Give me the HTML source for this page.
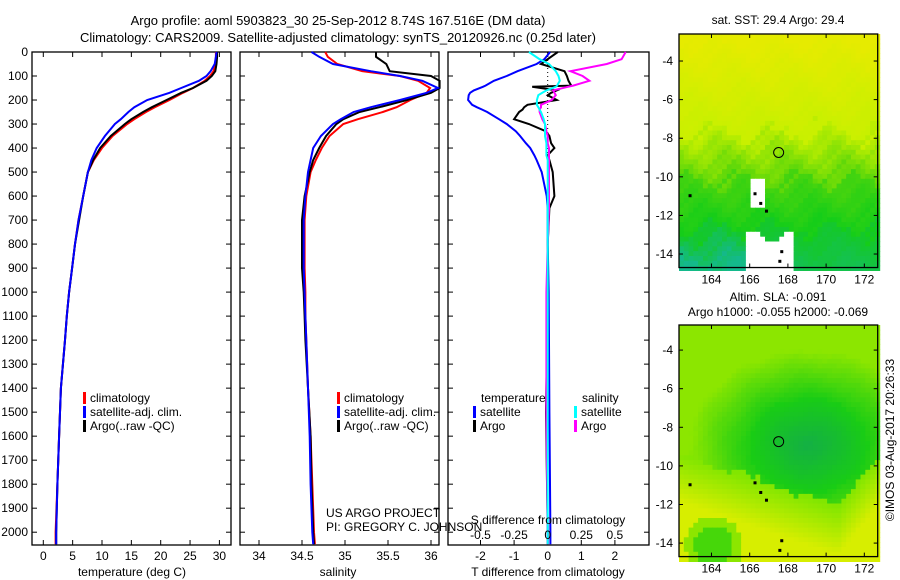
<!DOCTYPE html>
<html><head><meta charset="utf-8">
<style>
body{margin:0;background:#fff;}
svg{display:block;font-family:"Liberation Sans",sans-serif;}
text{font-size:12px;fill:#000;}
</style></head>
<body>
<svg id="c" width="900" height="580" viewBox="0 0 900 580">
<text x="338" y="25" text-anchor="middle" style="font-size:13px">Argo profile: aoml 5903823_30 25-Sep-2012 8.74S 167.516E (DM data)</text>
<text x="338" y="42" text-anchor="middle" style="font-size:13px">Climatology: CARS2009. Satellite-adjusted climatology: synTS_20120926.nc (0.25d later)</text>
<g id="g"></g>
</svg>
<script>
// ---- data ----
const depths = [0,20,50,80,100,120,150,170,200,230,250,280,300,350,400,450,500,600,700,800,900,1000,1100,1200,1400,1600,1800,2000,2050];
const tempArgo = [29.6,29.6,29.5,29.3,28.7,27.8,25.5,23.5,21.0,18.5,17.0,15.0,13.9,11.5,9.7,8.5,7.6,6.8,6.1,5.4,4.9,4.4,4.0,3.7,3.0,2.7,2.4,2.2,2.2];
const tempClim = [29.4,29.4,29.3,29.0,28.4,27.5,25.5,23.8,21.5,19.0,17.5,15.5,14.3,11.8,10.0,8.6,7.6,6.8,6.0,5.4,4.9,4.4,4.0,3.7,3.0,2.7,2.4,2.1,2.1];
const tempSat = [29.5,29.4,29.2,28.5,27.8,26.5,23.5,21.5,17.7,15.5,14.5,13.2,12.2,10.5,9.1,8.2,7.6,6.8,6.0,5.4,4.9,4.4,4.0,3.7,3.0,2.7,2.4,2.2,2.2];
const salArgo = [35.36,35.36,35.48,35.52,36.0,36.1,36.1,36.0,35.72,35.4,35.17,34.98,34.9,34.78,34.7,34.63,34.59,34.53,34.5,34.5,34.5,34.52,34.53,34.54,34.57,34.6,34.61,34.63,34.64];
const salClim = [34.77,34.8,34.91,35.2,35.64,35.85,35.99,35.95,35.76,35.6,35.44,35.15,34.98,34.82,34.73,34.66,34.6,34.55,34.53,34.53,34.53,34.54,34.54,34.55,34.57,34.6,34.62,34.64,34.65];
const salSat = [34.61,34.7,34.86,35.3,35.64,35.9,36.08,35.95,35.64,35.3,35.1,34.95,34.86,34.72,34.63,34.6,34.57,34.54,34.52,34.52,34.52,34.53,34.54,34.55,34.57,34.59,34.6,34.62,34.63];
const dDepths = [0,30,50,80,100,120,140,145,160,170,180,200,220,230,240,250,280,300,330,350,380,400,430,450,500,600,650,800,1000,1500,2000,2050];
const dTSat = [0.07,-0.1,-0.33,-0.9,-1.22,-1.6,-1.85,-1.93,-2.2,-2.31,-2.35,-2.37,-2.25,-2.11,-1.95,-1.8,-1.45,-1.22,-0.95,-0.82,-0.65,-0.52,-0.4,-0.33,-0.18,-0.03,0.0,0.0,0.03,0.05,0.08,0.08];
const dTArgo = [0.3,0.0,-0.2,0.5,0.57,0.62,0.7,-0.46,0.27,0.1,0.0,0.27,-0.6,-0.7,-0.75,-0.85,-1.0,-0.56,-0.06,0.05,0.1,0.2,0.0,0.05,0.15,0.2,0.05,0.0,0.0,-0.05,0.0,0.0];
const dSSat = [-0.14,-0.06,0.01,0.06,0.08,0.09,0.07,0.06,-0.01,-0.04,-0.07,-0.08,-0.08,-0.07,-0.06,-0.05,-0.03,-0.02,-0.02,-0.02,-0.01,-0.01,-0.01,0.0,0.0,0.0,0.0,0.0,0.0,0.0,0.0,0.0];
const dSArgo = [0.58,0.55,0.44,0.17,0.26,0.31,0.19,0.15,0.04,0.05,0.06,0.03,-0.05,-0.05,-0.06,-0.06,-0.04,-0.02,-0.01,0.0,0.0,0.01,0.01,0.01,0.01,0.01,0.01,0.0,-0.01,-0.01,0.0,0.0];
const depthTicks = [0,100,200,300,400,500,600,700,800,900,1000,1100,1200,1300,1400,1500,1600,1700,1800,1900,2000];
const tempTicks = [0,5,10,15,20,25,30];
const salTicks = [34,34.5,35,35.5,36];
const dTTicks = [-2,-1,0,1,2];
const dSTicks = [-0.5,-0.25,0,0.25,0.5];
const lonTicks = [164,166,168,170,172];
const latTicks = [-4,-6,-8,-10,-12,-14];

// ---- scales ----
const NS='http://www.w3.org/2000/svg';
const G=document.getElementById('g');
const yD=d=>52+d*0.2401;
const xT=t=>43.3+t*5.87;
const xS=s=>259+(s-34)*86;
const xDT=t=>547.7+t*33.6;
const xDS=s=>547.7+s*134.4;
function el(tag,attrs,parent){const e=document.createElementNS(NS,tag);for(const k in attrs)e.setAttribute(k,attrs[k]);(parent||G).appendChild(e);return e;}
function txt(x,y,s,anchor,parent,size){const t=el('text',{x:x,y:y,'text-anchor':anchor||'start'},parent);if(size)t.style.fontSize=size+'px';t.textContent=s;return t;}

function panel(name,x0,x1){
  const g=el('g',{});
  
  
  const r=el('rect',{x:x0,y:52,width:x1-x0,height:493,fill:'none',stroke:'#000','stroke-width':1.3},g);
  
  
  depthTicks.forEach(d=>{el('line',{x1:x0,x2:x0+5,y1:yD(d),y2:yD(d),stroke:'#000'},g);el('line',{x1:x1,x2:x1-5,y1:yD(d),y2:yD(d),stroke:'#000'},g);});
  return g;
}
function line(g,xs,ys,fx,color,name,w){
  const p=el('polyline',{points:xs.map((v,i)=>fx(v).toFixed(1)+','+yD(ys[i]).toFixed(1)).join(' '),fill:'none',stroke:color,'stroke-width':w||2},g);
  
  
}
function xTicks(g,ticks,fx,labelY,fmt){
  ticks.forEach(t=>{const x=fx(t);el('line',{x1:x,x2:x,y1:52,y2:57,stroke:'#000'},g);el('line',{x1:x,x2:x,y1:545,y2:540,stroke:'#000'},g);
    const l=txt(x,labelY,fmt?fmt(t):String(t),'middle',g);
    
    });
}
function legendEntry(g,x,y,color,label){
  el('rect',{x:x,y:y-10,width:3,height:12,fill:color},g);
  const t=txt(x+7,y,label,'start',g);
  
  
}

// Panel 1 temperature
const p1=panel('temperature-panel',32,231);
depthTicks.forEach(d=>{const t=txt(28,yD(d)+4,String(d),'end',p1);
  
  });
xTicks(p1,tempTicks,xT,560);
line(p1,tempClim,depths,xT,'#f00','temp-climatology-line');
line(p1,tempArgo,depths,xT,'#000','temp-argo-line');
line(p1,tempSat,depths,xT,'#00f','temp-satellite-line');
legendEntry(p1,83,402,'#f00','climatology');
legendEntry(p1,83,416,'#00f','satellite-adj. clim.');
legendEntry(p1,83,430,'#000','Argo(..raw -QC)');
const xt1=txt(132,576,'temperature (deg C)','middle',p1);



// Panel 2 salinity
const p2=panel('salinity-panel',240,439);
xTicks(p2,salTicks,xS,560);
line(p2,salClim,depths,xS,'#f00','sal-climatology-line');
line(p2,salArgo,depths,xS,'#000','sal-argo-line');
line(p2,salSat,depths,xS,'#00f','sal-satellite-line');
legendEntry(p2,337,402,'#f00','climatology');
legendEntry(p2,337,416,'#00f','satellite-adj. clim.');
legendEntry(p2,337,430,'#000','Argo(..raw -QC)');
const xt2=txt(338,576,'salinity','middle',p2);


const us=txt(326,517,'US ARGO PROJECT','start',p2);


const pi=txt(326,531,'PI: GREGORY C. JOHNSON','start',p2);



// Panel 3 differences
const p3=panel('difference-panel',448,649);
el('line',{x1:xDT(0),x2:xDT(0),y1:52,y2:200,stroke:'#000','stroke-dasharray':'1,3'},p3);
xTicks(p3,dTTicks,xDT,560);
line(p3,dTSat,dDepths,xDT,'#00f','t-diff-satellite-line');
line(p3,dTArgo,dDepths,xDT,'#000','t-diff-argo-line');
line(p3,dSArgo,dDepths,xDS,'#f0f','s-diff-argo-line');
line(p3,dSSat,dDepths,xDS,'#0ff','s-diff-satellite-line');
txt(481,402,'temperature','start',p3);
txt(582,402,'salinity','start',p3);
legendEntry(p3,473,416,'#00f','satellite');
legendEntry(p3,473,430,'#000','Argo');
legendEntry(p3,574,416,'#0ff','satellite');
legendEntry(p3,574,430,'#f0f','Argo');
const sd=txt(548,524,'S difference from climatology','middle',p3);


dSTicks.forEach(s=>{const t=txt(xDS(s),539,String(s),'middle',p3);
  
  });
const td=txt(548,576,'T difference from climatology','middle',p3);



// Maps
const LON0=162.3,LON1=172.7;
function mapPanel(name,top,latTop,latBot,colorFn){
  const g=el('g',{});
  
  
  const x0=679,x1=877.7,bot=top+(latTop-latBot)*19.3;
  const xL=lon=>x0+(lon-LON0)*(x1-x0)/(LON1-LON0);
  const yL=lat=>top+(latTop-lat)*19.3;
  const step=0.25;
  for(let lat=latTop;lat>latBot-0.001;lat-=step){
    for(let lon=LON0;lon<LON1;lon+=step){
      const c=colorFn(lon,lat);
      el('rect',{x:xL(lon).toFixed(1),y:yL(lat).toFixed(1),width:(xL(lon+step)-xL(lon)+0.6).toFixed(1),height:(step*19.3+0.6).toFixed(1),fill:c},g);
    }
  }
  el('rect',{x:x0,y:top,width:x1-x0,height:bot-top,fill:'none',stroke:'#000','stroke-width':1.3},g);
  lonTicks.forEach(l=>{el('line',{x1:xL(l),x2:xL(l),y1:top,y2:top+4,stroke:'#000'},g);el('line',{x1:xL(l),x2:xL(l),y1:bot,y2:bot-4,stroke:'#000'},g);
    const t=txt(xL(l),bot+16,String(l),'middle',g);
    
    });
  latTicks.forEach(l=>{if(l>latTop)return;const y=yL(l);el('line',{x1:x0,x2:x0+4,y1:y,y2:y,stroke:'#000'},g);el('line',{x1:x1,x2:x1-4,y1:y,y2:y,stroke:'#000'},g);
    const t=txt(673,y+4,String(l),'end',g);
    
    });
  const c=el('circle',{cx:xL(167.516),cy:yL(-8.74),r:5,fill:'none',stroke:'#000'},g);
  
  
  [[166.2,-10.8],[166.5,-11.3],[166.8,-11.7],[167.6,-13.8],[167.5,-14.3],[162.8,-10.9]].forEach(p=>{el('rect',{x:xL(p[0]),y:yL(p[1]),width:3,height:3,fill:'#000'},g);});
  return g;
}
function mix(a,b,t){t=Math.max(0,Math.min(1,t));return a.map((v,i)=>Math.round(v+(b[i]-v)*t));}
function rgb(c){return 'rgb('+c.join(',')+')';}
function n(lon,lat){return 0.5*Math.sin(lon*2.1+lat*1.3)+0.3*Math.sin(lon*5.7-lat*4.9+1.7)+0.2*Math.sin(lon*13.1+lat*11.7+0.4);}
const sst=(lon,lat)=>{
  if(lon>165.7&&lon<168.1&&lat<-12.9+0.3*Math.sin(lon*3))return '#fff';
  if(lon>165.9&&lon<166.8&&lat<-10.0&&lat>-11.4)return '#fff';
  const v=(-lat-2.6)+0.9*n(lon,lat);
  let c;
  if(v<5) c=mix([230,235,0],[200,240,0],v/5);
  else if(v<7.5) c=mix([190,238,0],[90,215,10],(v-5)/2.5);
  else if(v<10) c=mix([70,212,15],[20,205,25],(v-7.5)/2.5);
  else c=mix([20,200,40],[20,185,140],(v-10)/2*(lon<166?1:0.35));
  return rgb(c);
};
const sla=(lon,lat)=>{
  const bnd = lon<170.5 ? -9.3-(lon-162.3)*0.33 : -12+(lon-170.5)*1.2;
  const nn=0.25*n(lon,lat);
  let c;
  if(lat<bnd+nn){
    const dd=Math.min(1,(bnd-lat)/2.5);
    c=mix([130,230,0],[215,238,0],dd);
    if(Math.hypot(lon-164,lat+14)<1.0) c=[70,215,10];
    else if(Math.hypot(lon-164,lat+14)<1.5) c=[140,230,0];
  } else {
    const d=Math.hypot((lon-169)/4.5,(lat+8.8)/3.5);
    const v=1-d+0.15*nn;
    c=v>0.3?mix([25,205,20],[20,175,70],(v-0.3)/0.7):mix([140,230,0],[30,205,20],(v+0.4)/0.7);
  }
  return rgb(c);
};
mapPanel('sst-map',34,-2.6,-14.7,sst);
mapPanel('sla-map',325,-2.7,-14.7,sla);
const s1=txt(778,24,'sat. SST: 29.4  Argo: 29.4','middle');


const s2=txt(778,301,'Altim. SLA: -0.091','middle');


const s3=txt(778,316,'Argo h1000: -0.055 h2000: -0.069','middle');


const cr=txt(0,0,'©IMOS 03-Aug-2017 20:26:33','middle');
cr.setAttribute('transform','translate(894,440) rotate(-90)');


</script>
</body></html>
